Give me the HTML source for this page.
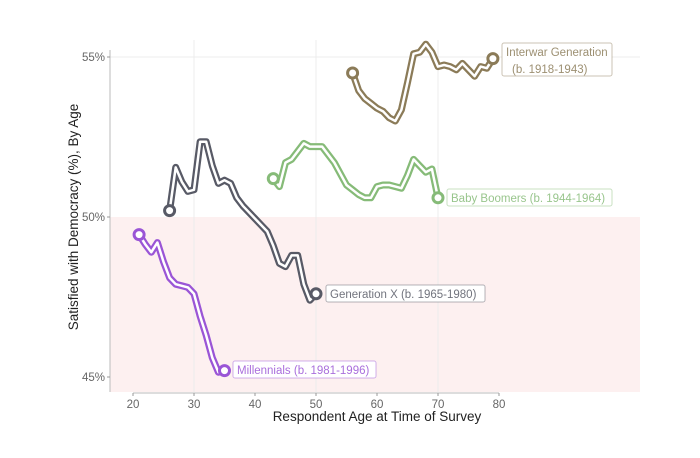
<!DOCTYPE html>
<html><head><meta charset="utf-8"><style>
body{margin:0;background:#fff;}
svg{display:block;font-family:"Liberation Sans",sans-serif;}
</style></head><body>
<svg id="chart" width="700" height="458">
<g id="bg"></g><g id="series"></g><g id="axes"></g>
</svg>
<script>
const millAges=[21,22,23,24,25,26,27,28,29,30,31,32,33,34,35];
const millVals=[49.45,49.15,48.9,49.2,48.6,48.1,47.9,47.85,47.8,47.6,46.9,46.3,45.6,45.15,45.2];
const genxAges=[26,27,28,29,30,31,32,33,34,35,36,37,38,39,40,41,42,43,44,45,46,47,48,49,50];
const genxVals=[50.2,51.55,51.1,50.8,50.85,52.35,52.35,51.6,51.05,51.15,51.05,50.6,50.35,50.15,49.95,49.75,49.55,49.1,48.55,48.45,48.8,48.8,47.9,47.4,47.6];
const boomAges=[43,44,45,46,47,48,49,50,51,52,53,54,55,56,57,58,59,60,61,62,63,64,65,66,67,68,69,70];
const boomVals=[51.2,50.95,51.7,51.8,52.05,52.3,52.2,52.2,52.2,51.95,51.7,51.35,51.0,50.85,50.7,50.6,50.6,50.95,51.0,51.0,50.95,50.9,51.3,51.8,51.6,51.4,51.5,50.6];
const interAges=[56,57,58,59,60,61,62,63,64,65,66,67,68,69,70,71,72,73,74,75,76,77,78,79];
const interVals=[54.5,53.95,53.7,53.55,53.4,53.3,53.1,53.0,53.35,54.2,55.1,55.15,55.4,55.15,54.7,54.75,54.7,54.6,54.8,54.6,54.4,54.7,54.65,54.95];
const xTicks=[20,30,40,50,60,70,80];
const yTicks=[45,50,55];
const yTickLabels=["45%","50%","55%"];

const X=a=>133+(a-20)*6.1;
const Y=v=>217-(v-50)*32;
const NS="http://www.w3.org/2000/svg";
function mk(tag,attrs,parent,text){const e=document.createElementNS(NS,tag);for(const k in attrs)e.setAttribute(k,attrs[k]);if(text!==undefined)e.textContent=text;parent.appendChild(e);return e;}
const bg=document.getElementById('bg'),sg=document.getElementById('series'),ax=document.getElementById('axes');

let r=mk('rect',{x:110,y:Y(50),width:530,height:392-Y(50),fill:'#fdf0f0'},bg);


[30,50,70].forEach(t=>{let l=mk('line',{x1:X(t),x2:X(t),y1:40,y2:392,stroke:'#ececec','stroke-width':1},bg);

});
let hg=mk('line',{x1:110,x2:640,y1:Y(55),y2:Y(55),stroke:'#ececec'},bg);



function series(name,ages,vals,color,labelLines,lx,ly,lw,lh){
  const g=mk('g',{},sg);
  
  
  const pts=ages.map((a,i)=>X(a)+','+Y(vals[i])).join(' ');
  let o=mk('polyline',{points:pts,fill:'none',stroke:color,'stroke-width':7,'stroke-linejoin':'round','stroke-linecap':'round'},g);
  
  
  let w=mk('polyline',{points:pts,fill:'none',stroke:'#fff','stroke-width':2.5,'stroke-linejoin':'round','stroke-linecap':'round'},g);
  
  
  [0,ages.length-1].forEach(i=>{let c=mk('circle',{cx:X(ages[i]),cy:Y(vals[i]),r:5,fill:'#fff',stroke:color,'stroke-width':3},g);
  
  });
  const lg=mk('g',{},g);
  
  
  mk('rect',{x:lx,y:ly,width:lw,height:lh,rx:2,fill:'#fff',stroke:color,'stroke-opacity':0.45,'stroke-width':1},lg);
  labelLines.forEach((t,i)=>mk('text',{x:lx+4+(i?6:0),y:ly+13+i*17,'font-size':11.5,fill:color,'fill-opacity':0.85},lg,t));
}
series('millennials',millAges,millVals,'#9a55d6',['Millennials (b. 1981-1996)'],233,361,143,17);
series('generation-x',genxAges,genxVals,'#585a66',['Generation X (b. 1965-1980)'],326,285,159,17);
series('baby-boomers',boomAges,boomVals,'#86bb78',['Baby Boomers (b. 1944-1964)'],447,189,165,17);
series('interwar',interAges,interVals,'#8b7b58',['Interwar Generation','(b. 1918-1943)'],502,43,110,33);

let ya=mk('line',{x1:110,x2:110,y1:50,y2:392,stroke:'#bbb'},ax);


let xa=mk('line',{x1:X(20),x2:X(80),y1:393,y2:393,stroke:'#bbb'},ax);


yTicks.forEach((t,i)=>{mk('line',{x1:107,x2:110,y1:Y(t),y2:Y(t),stroke:'#999'},ax);
let tx=mk('text',{x:105,y:Y(t)+4,'text-anchor':'end','font-size':11.5,fill:'#666'},ax,yTickLabels[i]);

});
xTicks.forEach(t=>{mk('line',{x1:X(t),x2:X(t),y1:393,y2:396,stroke:'#999'},ax);
let tx=mk('text',{x:X(t),y:408,'text-anchor':'middle','font-size':11.5,fill:'#666'},ax,String(t));

});
let xt=mk('text',{x:377,y:421,'text-anchor':'middle','font-size':13.5,fill:'#222'},ax,'Respondent Age at Time of Survey');


let yt=mk('text',{x:0,y:0,transform:'translate(78,217) rotate(-90)','text-anchor':'middle','font-size':13.5,fill:'#222'},ax,'Satisfied with Democracy (%), By Age');


</script>
</body></html>
